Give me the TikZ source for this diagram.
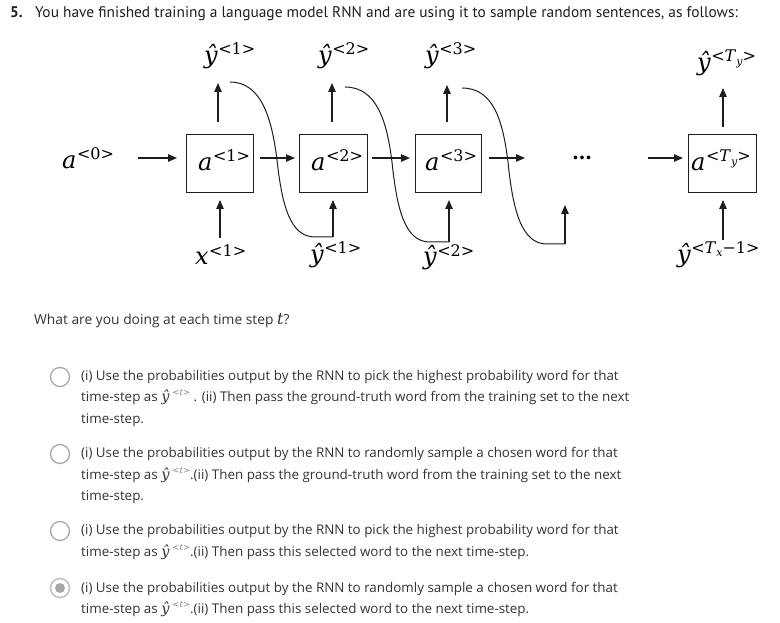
\documentclass[tikz,border=0pt]{standalone}
\usepackage{fontspec}
\setmainfont{Open Sans}
\newfontfamily\titlefont{PT Sans}
\newfontfamily\mathserif{DejaVu Serif}
\usetikzlibrary{arrows.meta}
\definecolor{txt}{HTML}{333333}
\definecolor{ink}{HTML}{1E1E1E}
\definecolor{ring}{HTML}{A6A6A6}
\newcommand{\rnnlbl}[2]{{\mathserif\fontsize{24}{28}\selectfont\itshape #1}\kern0.5pt\raisebox{9pt}{\mathserif\fontsize{16}{18}\selectfont #2}}
\newcommand{\subit}[1]{\raisebox{-3.5pt}{\fontsize{11}{11}\selectfont\itshape #1}}
\newcommand{\yhatt}{{\mathserif\itshape\fontsize{14.5}{16}\selectfont ŷ}\kern3pt\raisebox{6pt}{\mathserif\fontsize{8.5}{9}\selectfont\color{gray}<\textit{t}>}}
\begin{document}
\begin{tikzpicture}[x=1pt,y=-1pt,
  cell/.style={draw=ink,line width=1pt,minimum height=58pt,inner sep=0pt},
  lab/.style={anchor=base west,inner sep=0pt},
  arr/.style={draw=ink,line width=1.2pt,-{Triangle[length=9pt,width=7.5pt]}},
  link/.style={draw=ink,line width=1pt},
  opt/.style={anchor=base west,inner sep=0pt,font=\fontsize{13.4}{16}\selectfont,text=txt},
  radio/.style={circle,draw=ring,line width=1.3pt,minimum size=19pt,inner sep=0pt}]
\useasboundingbox (0,0) rectangle (780,623);
% title
\node[anchor=base west,inner sep=0pt,font=\titlefont\fontsize{15.4}{18}\selectfont\bfseries,text=ink] (qn) at (10,18) {5.};
\node[anchor=base west,inner sep=0pt,font=\titlefont\fontsize{15.4}{18}\selectfont,text=ink] (title) at (35,18) {You have finished training a language model RNN and are using it to sample random sentences, as follows:};
% boxes
\node[cell,minimum width=67pt] (b1) at (219.5,164) {};
\node[cell,minimum width=68pt] (b2) at (333,164) {};
\node[cell,minimum width=66pt] (b3) at (448,164) {};
\node[cell,minimum width=68pt] (bT) at (722,164) {};
\node[lab] (a1) at (198,171) {\rnnlbl{a}{<1>}};
\node[lab] (a2) at (311,171) {\rnnlbl{a}{<2>}};
\node[lab] (a3) at (425,171) {\rnnlbl{a}{<3>}};
\node[lab] (aT) at (691,171) {\rnnlbl{a}{<\textit{T}\subit{y}>}};
\node[inner sep=0pt,font=\mathserif\fontsize{20}{20}\selectfont\bfseries] (dots) at (582,158) {…};
% labels
\node[lab] (a0) at (62,169) {\rnnlbl{a}{<0>}};
\node[lab] (y1) at (204,64) {\rnnlbl{ŷ}{<1>}};
\node[lab] (y2) at (318,64) {\rnnlbl{ŷ}{<2>}};
\node[lab] (y3) at (425,64) {\rnnlbl{ŷ}{<3>}};
\node[lab] (yT) at (697,71) {\rnnlbl{ŷ}{<\textit{T}\subit{y}>}};
\node[lab] (x1) at (195,265) {\rnnlbl{x}{<1>}};
\node[lab] (yb1) at (310,262) {\rnnlbl{ŷ}{<1>}};
\node[lab] (yb2) at (423,265) {\rnnlbl{ŷ}{<2>}};
\node[lab] (ybT) at (677,262) {\rnnlbl{ŷ}{<\textit{T}\subit{x}−1>}};
% coordinates
\coordinate (h0s) at (138,158); \coordinate (h0e) at (177,158);
\coordinate (h1s) at (260,158); \coordinate (h1e) at (295,158);
\coordinate (h2s) at (372,158); \coordinate (h2e) at (410,158);
\coordinate (h3s) at (489,158); \coordinate (h3e) at (525,158);
\coordinate (h4s) at (648,158); \coordinate (h4e) at (683,158);
\coordinate (u1s) at (218,122); \coordinate (u1e) at (218,83);
\coordinate (u2s) at (332,122); \coordinate (u2e) at (332,83);
\coordinate (u3s) at (447,122); \coordinate (u3e) at (447,85);
\coordinate (uTs) at (723,127); \coordinate (uTe) at (723,88);
\coordinate (d1s) at (220,238); \coordinate (d1e) at (220,200);
\coordinate (d2s) at (333,237); \coordinate (d2e) at (333,200);
\coordinate (d3s) at (449,242); \coordinate (d3e) at (449,200);
\coordinate (d4s) at (565,244); \coordinate (d4e) at (565,205);
\coordinate (dTs) at (723,240); \coordinate (dTe) at (723,200);
\coordinate (c1) at (230,82); \coordinate (c2) at (345,87); \coordinate (c3) at (462,88);
% arrows
\foreach \s/\e in {h0s/h0e,h1s/h1e,h2s/h2e,h3s/h3e,h4s/h4e,u1s/u1e,u2s/u2e,u3s/u3e,uTs/uTe,d1s/d1e,d2s/d2e,d3s/d3e,d4s/d4e,dTs/dTe}
  \draw[arr] (\s) -- (\e);
% feedback curves
\draw[link] (c1) .. controls (262,82) and (272,120) .. (277,160) .. controls (282,205) and (290,237) .. (315,237) -- (d2s);
\draw[link] (c2) .. controls (377,87) and (387,122) .. (392,162) .. controls (397,210) and (405,242) .. (430,242) -- (d3s);
\draw[link] (c3) .. controls (494,88) and (503,122) .. (508,162) .. controls (513,212) and (522,244) .. (547,244) -- (d4s);
% question
\node[anchor=base west,inner sep=0pt,font=\fontsize{13.8}{17}\selectfont,text=txt] (q) at (34,324) {What are you doing at each time step {\mathserif\itshape\fontsize{16}{17}\selectfont t}?};
% options
\node[radio] (r1) at (60,377) {};
\node[opt] (o1a) at (81,380) {(i) Use the probabilities output by the RNN to pick the highest probability word for that};
\node[opt] (o1b) at (81,401) {time-step as \yhatt\ . (ii) Then pass the ground-truth word from the training set to the next};
\node[opt] (o1c) at (81,423) {time-step.};
\node[radio] (r2) at (60,454) {};
\node[opt] (o2a) at (81,457) {(i) Use the probabilities output by the RNN to randomly sample a chosen word for that};
\node[opt] (o2b) at (81,479) {time-step as \yhatt.(ii) Then pass the ground-truth word from the training set to the next};
\node[opt] (o2c) at (81,500) {time-step.};
\node[radio] (r3) at (60,531) {};
\node[opt] (o3a) at (81,534) {(i) Use the probabilities output by the RNN to pick the highest probability word for that};
\node[opt] (o3b) at (81,556) {time-step as \yhatt.(ii) Then pass this selected word to the next time-step.};
\node[radio,draw=ring!60,line width=2pt] (r4) at (60,588) {};
\node[circle,fill=ring,minimum size=10pt,inner sep=0pt] (r4dot) at (60,588) {};
\node[opt] (o4a) at (81,592) {(i) Use the probabilities output by the RNN to randomly sample a chosen word for that};
\node[opt] (o4b) at (81,613) {time-step as \yhatt.(ii) Then pass this selected word to the next time-step.};
\end{tikzpicture}
\end{document}
